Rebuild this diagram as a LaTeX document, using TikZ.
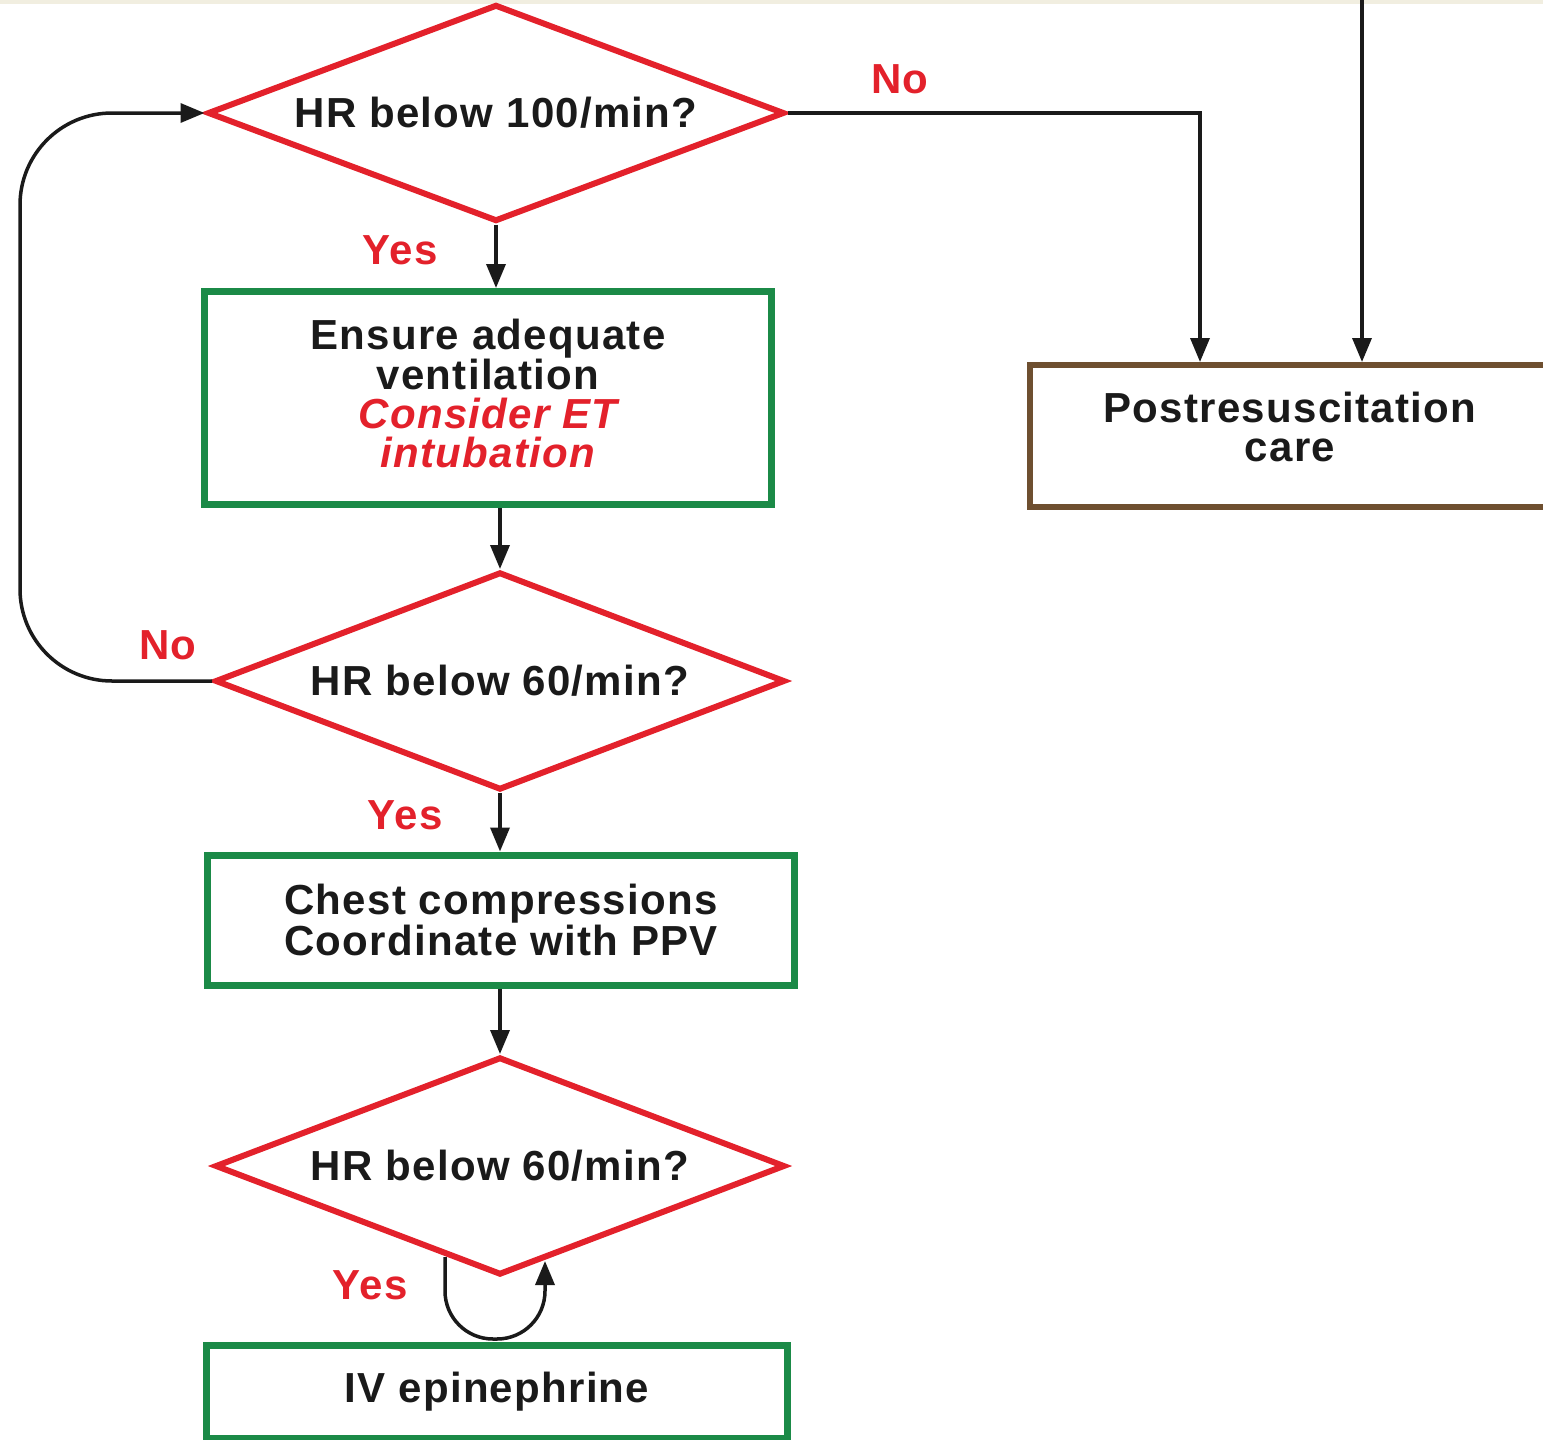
\documentclass[tikz,border=0pt]{standalone}
\usepackage{fontspec,tikz}
\usetikzlibrary{shapes.geometric,arrows.meta}
\setmainfont[LetterSpace=3]{Liberation Sans}
\definecolor{alarmred}{HTML}{E3212B}
\definecolor{stepgreen}{HTML}{1B8A47}
\definecolor{carebrown}{HTML}{6E4F30}
\definecolor{topband}{HTML}{F1EEE0}
\definecolor{ink}{HTML}{1A1A1A}

\begin{document}
\begin{tikzpicture}[x=1pt,y=-1pt,
  txt/.style={font=\fontsize{42}{39}\selectfont\bfseries,text=ink,align=center},
  query/.style={txt,diamond,draw=alarmred,line width=6pt,aspect=2.66,inner sep=0pt,minimum width=570pt,minimum height=218pt},
  stepbox/.style={txt,rectangle,draw=stepgreen,line width=7pt,inner sep=0pt},
  carebox/.style={txt,rectangle,draw=carebrown,line width=6pt,inner sep=0pt},
  answer/.style={font=\fontsize{42}{42}\selectfont\bfseries,text=alarmred,inner sep=0pt},
  flow/.style={draw=ink,line width=3.5pt,-{Triangle[length=24pt,width=19pt]}}]
\path[use as bounding box] (0,0) rectangle (1543,1440);
\fill[topband] (0,0) rectangle (1543,4);
% decisions
\node[query,minimum width=577pt,minimum height=217pt] (hr1) at (496,113) {HR below 100/min?};
\node[query] (hr2) at (500,681) {HR below 60/min?};
\node[query] (hr3) at (500,1166) {HR below 60/min?};
% actions
\node[stepbox,minimum width=567pt,minimum height=213pt,text depth=9pt] (vent) at (488,398) {Ensure adequate\\ventilation\\\textcolor{alarmred}{\itshape Consider ET}\\\textcolor{alarmred}{\itshape intubation}};
\node[stepbox,minimum width=587pt,minimum height=130pt] (chest) at (501,920) {Chest compressions\\Coordinate with PPV};
\node[stepbox,minimum width=581pt,minimum height=93pt] (epi) at (497,1392) {IV epinephrine};
\node[carebox,minimum width=520pt,minimum height=142pt,text depth=18pt] (post) at (1290,436) {Postresuscitation\\care};
% answers
\node[answer] (yes1) at (400,250) {Yes};
\node[answer] (no1) at (900,79) {No};
\node[answer] (no2) at (168,645) {No};
\node[answer] (yes2) at (405,815) {Yes};
\node[answer] (yes3) at (370,1285) {Yes};
% connectors
\coordinate (feed) at (1362,0);
\draw[flow] (hr1.south) -- (hr1.south |- vent.north);
\draw[flow] (hr1.east) -| ([xshift=-90pt]post.north);
\draw[flow] (feed) -- (feed |- post.north);
\draw[flow] (hr2.north |- vent.south) -- (hr2.north);
\draw[flow] (hr2.south) -- (hr2.south |- chest.north);
\draw[flow] (hr3.north |- chest.south) -- (hr3.north);
\draw[flow,rounded corners=92pt] (hr2.west) -| (20,400) |- (hr1.west);
\draw[flow,rounded corners=48pt] ([xshift=-55pt,yshift=21pt]hr3.south) -- ++(0,82) -- ++(100,0) -- ([xshift=45pt,yshift=17pt]hr3.south);
\end{tikzpicture}
\end{document}
